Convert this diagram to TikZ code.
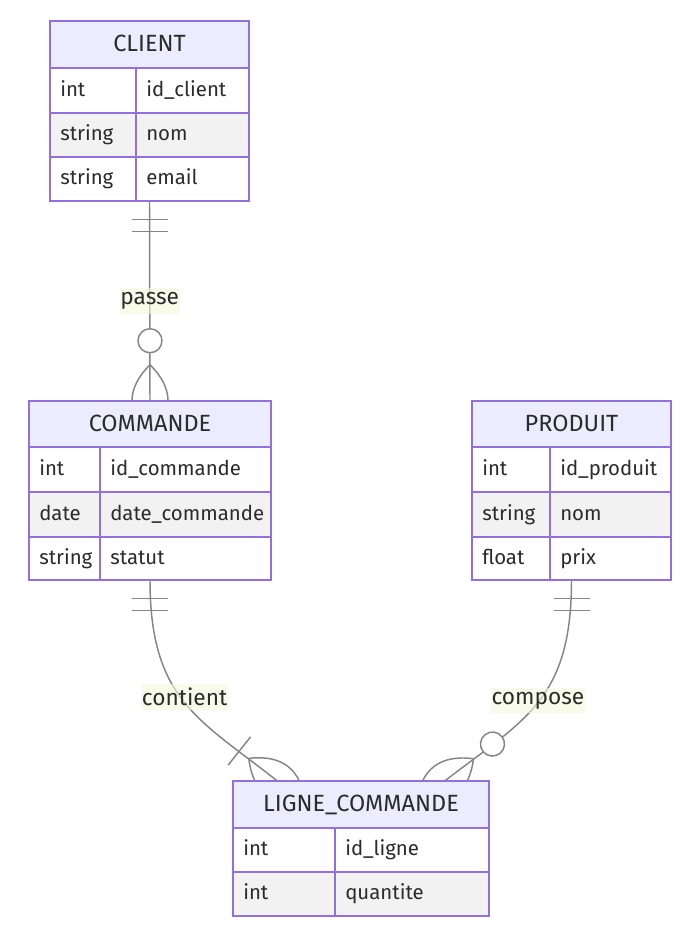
\documentclass[tikz,border=0pt]{standalone}
\usepackage{fontspec}
\setmainfont{Fira Sans}
\usetikzlibrary{calc,fit}
\definecolor{hdrfill}{HTML}{ECECFF}
\definecolor{boxline}{HTML}{9370DB}
\definecolor{rowgray}{HTML}{F2F2F2}
\definecolor{relline}{HTML}{858585}
\definecolor{txt}{HTML}{2B2B2B}
\definecolor{lblbg}{HTML}{F4F8DC}
\tikzset{
  erline/.style={draw=relline, line width=1.1pt},
  boxborder/.style={draw=boxline, line width=1.5pt},
  attr/.style={anchor=base west, inner sep=0pt, text=txt, font=\fontsize{15.3}{18}\selectfont},
  title/.style={anchor=base, inner sep=0pt, text=txt, font=\fontsize{17.6}{20}\selectfont},
  rellabel/.style={fill=lblbg, fill opacity=0.6, text opacity=1, text=txt, inner xsep=0.5pt, inner ysep=3pt, font=\fontsize{17}{20}\selectfont},
  placeholder/.style={inner sep=0pt, draw=none},
  onlyone/.pic={\draw[erline] (18,-18) -- (18,18) (30,-18) -- (30,18);},
  zeromany/.pic={\draw[erline] (36,0) .. controls (12,24) and (-12,24) .. (-36,0) .. controls (-12,-24) and (12,-24) .. (36,0);
                 \draw[erline, fill=white] (60,0) circle[radius=9pt];},
  onemany/.pic={\draw[erline] (36,0) .. controls (12,24) and (-12,24) .. (-36,0) .. controls (-12,-24) and (12,-24) .. (36,0);
                \draw[erline] (48,-18) -- (48,18);}
}
% #1 L, #2 R, #3 divider, #4 top, #5 bottom, #6 fill, #7 type, #8 field, #9 name
\newcommand\errow[9]{%
  \fill[#6] (#1,#4) rectangle (#2,#5);
  \node[attr] (#9-t) at (#1+10,{(#4+#5)/2+5.5}) {#7};
  \node[attr] (#9-f) at (#3+10,{(#4+#5)/2+5.5}) {#8};
}
% #1 name, #2 L, #3 T, #4 R, #5 header bottom, #6 title
\newcommand\erhead[6]{%
  \fill[hdrfill] (#2,#3) rectangle (#4,#5);
  \node[title] (#1-title) at ({(#2+#4)/2},{(#3+#5)/2+7}) {#6};
}
\begin{document}
\begin{tikzpicture}[x=0.75pt,y=-0.75pt]
\useasboundingbox (0,0) rectangle (696,932);
% entity placeholders
\node[placeholder, fit={(50,21) (249,201)}] (client) {};
\node[placeholder, fit={(29,401) (271,580)}] (commande) {};
\node[placeholder, fit={(472,401) (671,580)}] (produit) {};
\node[placeholder, fit={(233,781) (489,916)}] (ligne) {};
\coordinate (la) at ($(ligne.north)+(-84,0)$);
\coordinate (lb) at ($(ligne.north)+(84,0)$);
% relationships
\draw[erline] (client.south) -- node[rellabel, pos=0.5] (lpasse) {passe} (commande.north);
\draw[erline] (commande.south) .. controls +(0,120) and +(-77,-61) .. node[rellabel, pos=0.5, yshift=4.5pt] (lcontient) {contient} (la);
\draw[erline] (produit.south) .. controls +(0,120) and +(79,-61) .. node[rellabel, pos=0.5, yshift=1.5pt] (lcompose) {compose} (lb);
% markers
\pic[rotate=-90] at (client.south) {onlyone};
\pic[rotate=90] at (commande.north) {zeromany};
\pic[rotate=-90] at (commande.south) {onlyone};
\pic[rotate=-90] at (produit.south) {onlyone};
\pic[rotate=141.6] at (la) {onemany};
\pic[rotate=37.7] at (lb) {zeromany};
% CLIENT
\erhead{client}{50}{21}{249}{68}{CLIENT}
\errow{50}{249}{136}{68}{113}{white}{int}{id\_client}{client-r1}
\errow{50}{249}{136}{113}{157}{rowgray}{string}{nom}{client-r2}
\errow{50}{249}{136}{157}{201}{white}{string}{email}{client-r3}
\draw[boxborder] (50,21) rectangle (249,201);
\draw[boxborder] (50,68) -- (249,68) (50,113) -- (249,113) (50,157) -- (249,157) (136,68) -- (136,201);
% COMMANDE
\erhead{commande}{29}{401}{271}{447}{COMMANDE}
\errow{29}{271}{100}{447}{492}{white}{int}{id\_commande}{commande-r1}
\errow{29}{271}{100}{492}{537}{rowgray}{date}{date\_commande}{commande-r2}
\errow{29}{271}{100}{537}{580}{white}{string}{statut}{commande-r3}
\draw[boxborder] (29,401) rectangle (271,580);
\draw[boxborder] (29,447) -- (271,447) (29,492) -- (271,492) (29,537) -- (271,537) (100,447) -- (100,580);
% PRODUIT
\erhead{produit}{472}{401}{671}{447}{PRODUIT}
\errow{472}{671}{550}{447}{492}{white}{int}{id\_produit}{produit-r1}
\errow{472}{671}{550}{492}{537}{rowgray}{string}{nom}{produit-r2}
\errow{472}{671}{550}{537}{580}{white}{float}{prix}{produit-r3}
\draw[boxborder] (472,401) rectangle (671,580);
\draw[boxborder] (472,447) -- (671,447) (472,492) -- (671,492) (472,537) -- (671,537) (550,447) -- (550,580);
% LIGNE_COMMANDE
\erhead{ligne}{233}{781}{489}{828}{LIGNE\_COMMANDE}
\errow{233}{489}{335}{828}{872}{white}{int}{id\_ligne}{ligne-r1}
\errow{233}{489}{335}{872}{916}{rowgray}{int}{quantite}{ligne-r2}
\draw[boxborder] (233,781) rectangle (489,916);
\draw[boxborder] (233,828) -- (489,828) (233,872) -- (489,872) (335,828) -- (335,916);
\end{tikzpicture}
\end{document}
